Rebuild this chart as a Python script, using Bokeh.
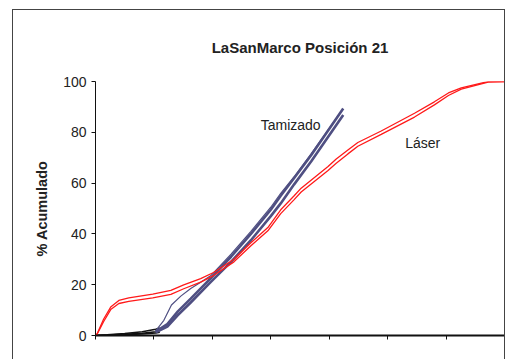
from bokeh.plotting import figure
from bokeh.models import Label, Range1d, FixedTicker, InlineStyleSheet
from bokeh.embed import file_html
from bokeh.resources import INLINE

title_text = "LaSanMarco Posición 21"
y_label = "% Acumulado"
y_ticks = [0, 20, 40, 60, 80, 100]
x_ticks = [0, 1, 2, 3, 4, 5, 6, 7]

# Láser (two replicates)
laser_x = [0.0, 0.03, 0.14, 0.26, 0.40, 0.57, 0.98, 1.29, 1.51, 1.80, 2.02, 2.37, 2.66,
           2.95, 3.17, 3.40, 3.52, 3.98, 4.12, 4.32, 4.49, 4.89, 5.46, 5.80, 6.04, 6.26, 6.72, 7.0]
laser_1 = [0.0, 0.8, 6.5, 11.2, 13.8, 14.8, 16.3, 17.8, 19.9, 22.4, 24.8, 30.0, 36.5,
           42.5, 49.5, 55.0, 58.0, 66.5, 69.5, 73.0, 76.0, 80.5, 87.5, 92.0, 95.5, 97.5, 100.0, 100.0]
laser_2 = [0.0, 0.6, 5.5, 10.2, 12.6, 13.4, 14.8, 16.2, 18.4, 21.0, 23.6, 29.0, 35.3,
           41.2, 48.0, 53.5, 56.5, 65.0, 67.8, 71.5, 74.5, 79.2, 86.0, 90.8, 94.5, 97.0, 99.8, 100.0]

# Tamizado (three replicates)
tam_a_x = [1.03, 1.17, 1.30, 1.46, 1.63, 1.80, 1.97, 2.32, 2.66, 3.00, 3.17, 3.40, 3.69, 4.20]
tam_a_y = [1.8, 6.0, 12.0, 15.5, 18.5, 21.0, 23.5, 32.0, 41.0, 50.5, 56.0, 62.5, 71.5, 88.0]
tam_x = [1.03, 1.23, 1.41, 1.63, 1.97, 2.32, 2.66, 3.00, 3.17, 3.40, 3.69, 4.24]
tam_b_y = [1.5, 4.5, 9.5, 14.5, 22.5, 31.0, 40.0, 49.5, 55.0, 62.0, 71.0, 89.4]
tam_c_y = [1.2, 3.5, 8.0, 13.0, 21.0, 29.0, 37.5, 47.0, 52.0, 59.5, 68.5, 86.8]

# near-zero start of the sieve curves
fine_x = [0.0, 0.2, 0.5, 0.8, 1.03, 1.1]
fine_1 = [0.0, 0.3, 0.8, 1.5, 2.5, 3.0]
fine_2 = [0.0, 0.2, 0.5, 0.9, 1.5, 2.0]
fine_3 = [0.0, 0.1, 0.3, 0.6, 1.0, 1.3]

FONT = "Liberation Sans"
RED = "#FF1A1A"
BLUE = "#4F4F82"

frame_css = InlineStyleSheet(css="""
:host { position: relative; overflow: hidden; }
:host::after {
  content: "";
  position: absolute;
  left: 12px; top: 9px; width: 491px; height: 360px;
  border-top: 1.5px solid #444444;
  border-left: 1.5px solid #444444;
  border-right: 1.5px solid #444444;
  pointer-events: none;
}
""")

p = figure(width=507, height=359, output_backend="svg", toolbar_location=None,
           x_range=Range1d(0, 7), y_range=Range1d(0, 100),
           min_border_left=95, min_border_right=3, min_border_top=81, min_border_bottom=24,
           title=title_text)
p.stylesheets = [frame_css]
p.outline_line_color = None
p.grid.grid_line_color = None
p.background_fill_color = "white"
p.border_fill_color = "white"

p.title.align = "center"
p.title.text_font = FONT
p.title.text_font_size = "15px"
p.title.text_font_style = "bold"
p.title.text_color = "#222222"
p.title.standoff = 52
p.title.offset = -3

# axes
p.xaxis.ticker = FixedTicker(ticks=x_ticks)
p.xaxis.major_label_text_alpha = 0
p.xaxis.major_label_text_font_size = "1px"
p.xaxis.minor_tick_line_color = None
p.xaxis.major_tick_in = 0
p.xaxis.major_tick_out = 4
p.xaxis.axis_line_width = 2
p.xaxis.axis_line_color = "#111111"
p.xaxis.major_tick_line_color = "#111111"

p.yaxis.ticker = FixedTicker(ticks=y_ticks)
p.yaxis.minor_tick_line_color = None
p.yaxis.major_tick_in = 0
p.yaxis.major_tick_out = 4
p.yaxis.axis_line_color = "#111111"
p.yaxis.major_tick_line_color = "#111111"
p.yaxis.major_label_text_font = FONT
p.yaxis.major_label_text_font_size = "14px"
p.yaxis.major_label_text_color = "#222222"
p.yaxis.major_label_standoff = 5
p.yaxis.axis_label = y_label
p.yaxis.axis_label_text_font = FONT
p.yaxis.axis_label_text_font_size = "14.5px"
p.yaxis.axis_label_text_font_style = "bold"
p.yaxis.axis_label_text_color = "#222222"
p.yaxis.axis_label_standoff = 10

# curves
for yy in (fine_1, fine_2, fine_3):
    p.line(fine_x, yy, line_color="#111111", line_width=1.5)
p.line(tam_x, tam_c_y, line_color=BLUE, line_width=2.6)
p.line(tam_x, tam_b_y, line_color=BLUE, line_width=2.6)
p.line(tam_a_x, tam_a_y, line_color=BLUE, line_width=1.2)
p.line(laser_x, laser_2, line_color=RED, line_width=1.3)
p.line(laser_x, laser_1, line_color=RED, line_width=1.3)

# texts
p.add_layout(Label(x=3.34, y=82.7, text="Tamizado", text_align="center", text_baseline="middle",
                   text_font=FONT, text_font_size="14px", text_color="#222222"))
p.add_layout(Label(x=5.6, y=75.6, text="Láser", text_align="center", text_baseline="middle",
                   text_font=FONT, text_font_size="14px", text_color="#222222"))

open("out.html", "w").write(file_html(p, INLINE))
